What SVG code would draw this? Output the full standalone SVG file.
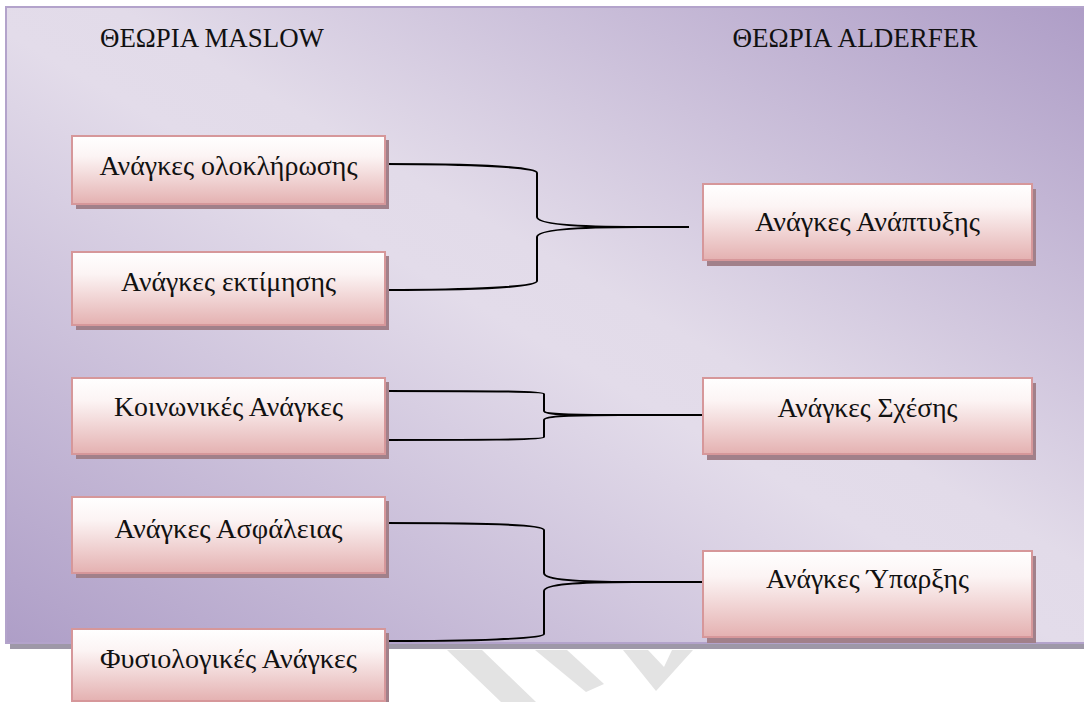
<svg xmlns="http://www.w3.org/2000/svg" width="1084" height="702" viewBox="0 0 1084 702">
<defs>
<linearGradient id="panelGrad" x1="0" y1="1" x2="1" y2="0">
<stop offset="0" stop-color="#ae9ec7"/>
<stop offset="0.48" stop-color="#e3dcea"/>
<stop offset="0.55" stop-color="#e2dbe9"/>
<stop offset="1" stop-color="#ad9cc6"/>
</linearGradient>
<linearGradient id="boxGrad" x1="0" y1="0" x2="0" y2="1">
<stop offset="0" stop-color="#ffffff"/>
<stop offset="0.3" stop-color="#fcf4f4"/>
<stop offset="1" stop-color="#e4b1b1"/>
</linearGradient>
<style>
.box{fill:url(#boxGrad);stroke:#d6979a;stroke-width:2}
.shadow{fill:#a1808a}
.lbl{font-family:"Liberation Serif","DejaVu Serif",serif;font-size:27px;fill:#111;text-anchor:middle}
.hdr{font-family:"Liberation Serif","DejaVu Serif",serif;font-size:27px;fill:#111;text-anchor:middle}
.conn{fill:none;stroke:#000;stroke-width:2}
.wm{fill:#e3e3e3}
</style>
</defs>
<rect width="1084" height="702" fill="#ffffff"/>
<g id="watermark">
<polygon class="wm" points="447,650 482,650 536,702 501,702"/>
<polygon class="wm" points="535,650 567,650 604,684 586,692"/>
<polygon class="wm" points="623,650 648,650 664,667 672,650 693,650 656,691"/>
</g>
<g id="panel">
<rect x="10" y="12" width="1100" height="637" fill="#9e98a8"/>
<rect x="6" y="7" width="1100" height="636" fill="url(#panelGrad)" stroke="#b3a3cb" stroke-width="2"/>
<text class="hdr" x="212" y="47" textLength="224" lengthAdjust="spacingAndGlyphs">ΘΕΩΡΙΑ MASLOW</text>
<text class="hdr" x="855" y="47" textLength="245" lengthAdjust="spacingAndGlyphs">ΘΕΩΡΙΑ ALDERFER</text>
</g>
<g id="connectors">
<path class="conn" d="M385,164 C470,164 537,167 537,173 L537,217 C537,224 575,227 640,227 L689,227"/>
<path class="conn" d="M385,290 C470,290 537,287 537,281 L537,237 C537,230 575,227 640,227"/>
<path class="conn" d="M385,391 C470,391 544,391 544,394 L544,411 C544,415 575,415 620,415 L703,415"/>
<path class="conn" d="M385,440 C470,440 544,440 544,437 L544,420 C544,416 575,415 620,415"/>
<path class="conn" d="M385,523 C470,523 544,524 544,530 L544,573 C544,580 580,582 633,582 L703,582"/>
<path class="conn" d="M386,641 C470,641 544,639 544,634 L544,591 C544,584 580,582 633,582"/>
</g>
<g id="n1">
<rect class="shadow" x="76" y="140" width="313" height="69"/>
<rect class="box" x="72" y="136" width="313" height="68"/>
<text class="lbl" x="228.5" y="175" textLength="258" lengthAdjust="spacingAndGlyphs">Ανάγκες ολοκλήρωσης</text>
</g>
<g id="n2">
<rect class="shadow" x="76" y="256" width="313" height="74"/>
<rect class="box" x="72" y="252" width="313" height="73"/>
<text class="lbl" x="228.5" y="291" textLength="215" lengthAdjust="spacingAndGlyphs">Ανάγκες εκτίμησης</text>
</g>
<g id="n3">
<rect class="shadow" x="76" y="382" width="313" height="77"/>
<rect class="box" x="72" y="378" width="313" height="76"/>
<text class="lbl" x="228.5" y="416" textLength="229" lengthAdjust="spacingAndGlyphs">Κοινωνικές Ανάγκες</text>
</g>
<g id="n4">
<rect class="shadow" x="76" y="501" width="313" height="77"/>
<rect class="box" x="72" y="497" width="313" height="76"/>
<text class="lbl" x="228.5" y="538" textLength="228" lengthAdjust="spacingAndGlyphs">Ανάγκες Ασφάλειας</text>
</g>
<g id="n5">
<rect class="shadow" x="76" y="633" width="313" height="75"/>
<rect class="box" x="72" y="629" width="313" height="72"/>
<text class="lbl" x="228.5" y="668" textLength="257" lengthAdjust="spacingAndGlyphs">Φυσιολογικές Ανάγκες</text>
</g>
<g id="r1">
<rect class="shadow" x="707" y="189" width="329" height="77"/>
<rect class="box" x="703" y="184" width="329" height="76"/>
<text class="lbl" x="867.5" y="231" textLength="225" lengthAdjust="spacingAndGlyphs">Ανάγκες Ανάπτυξης</text>
</g>
<g id="r2">
<rect class="shadow" x="707" y="383" width="329" height="77"/>
<rect class="box" x="703" y="378" width="329" height="76"/>
<text class="lbl" x="867.5" y="417" textLength="180" lengthAdjust="spacingAndGlyphs">Ανάγκες Σχέσης</text>
</g>
<g id="r3">
<rect class="shadow" x="707" y="556" width="329" height="87"/>
<rect class="box" x="703" y="551" width="329" height="86"/>
<text class="lbl" x="867.5" y="588" textLength="203" lengthAdjust="spacingAndGlyphs">Ανάγκες Ύπαρξης</text>
</g>
</svg>
